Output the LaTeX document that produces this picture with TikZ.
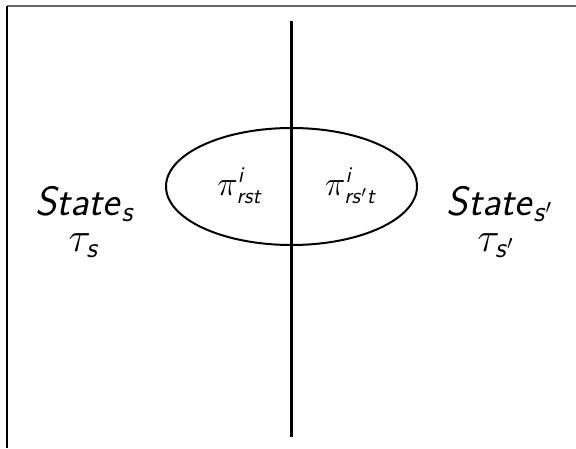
\documentclass[tikz,border=0pt]{standalone}
\usepackage{amsmath}
\usetikzlibrary{shapes.geometric}
\newcommand{\ssit}[1]{\textsf{\textit{#1}}}
\begin{document}
\begin{tikzpicture}[x=0.5pt,y=-0.5pt,
  big/.style={inner sep=0pt,font=\fontsize{20.5}{24}\selectfont},
  mid/.style={inner sep=0pt,font=\fontsize{20}{24}\selectfont},
  small/.style={inner sep=0pt,font=\fontsize{16}{19}\selectfont},
  edge/.style={line width=1pt}]
\useasboundingbox (0,0) rectangle (576,448);
% partial frame
\coordinate (ftr) at (576,6.5);
\coordinate (ftl) at (7,6.5);
\coordinate (fbl) at (7,448);
\draw[line width=1pt,black!60] (ftl) -- (ftr);
\draw[line width=1pt] (ftl) -- (fbl);
% ellipse
\node[draw,ellipse,edge,minimum width=125.5pt,minimum height=58.5pt,inner sep=0pt] (ell) at (291.5,186.5) {};
% vertical line
\coordinate (vtop) at (291.5,21);
\coordinate (vbot) at (291.5,437);
\draw[line width=1.2pt] (vtop) -- (vbot);
% labels
\node[small] (pl) at (240,186) {$\pi^{\ssit{i}}_{\ssit{rst}}$};
\node[small] (pr) at (351,186) {$\pi^{\ssit{i}}_{\ssit{rs}'\ssit{t}}$};
\node[big] (sl) at (85,204) {\ssit{State}$_{\ssit{s}}$};
\node[mid] (tl) at (84,246) {$\tau_{\ssit{s}}$};
\node[big] (sr) at (500,204) {\ssit{State}$_{\ssit{s}'}$};
\node[mid] (tr) at (496,246) {$\tau_{\ssit{s}'}$};
\end{tikzpicture}
\end{document}
